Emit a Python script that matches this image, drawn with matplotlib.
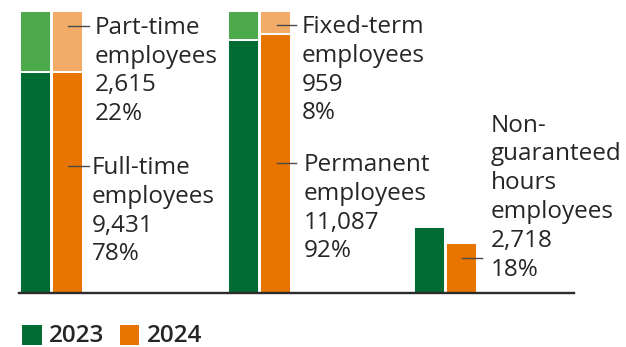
import matplotlib
matplotlib.use("Agg")
import matplotlib.pyplot as plt
from matplotlib.patches import Rectangle

# ---- data (percent of employees) ----
years = ["2023", "2024"]
groups = ["Full/part-time", "Permanent/fixed-term", "Non-guaranteed hours"]
base_2023 = [78.5, 89.7, 23.5]   # full-time, permanent, non-guaranteed
base_2024 = [78.3, 92.0, 17.8]
top_2023 = [21.5, 10.3, 0.0]     # part-time, fixed-term, (none)
top_2024 = [21.7, 8.0, 0.0]

label_part = ["Part-time", "employees", "2,615", "22%"]
label_full = ["Full-time", "employees", "9,431", "78%"]
label_fixed = ["Fixed-term", "employees", "959", "8%"]
label_perm = ["Permanent", "employees", "11,087", "92%"]
label_ngh = ["Non-", "guaranteed", "hours", "employees", "2,718", "18%"]

dark = ["#006b33", "#e87500"]
light = ["#4caa4c", "#f2ac68"]
text_color = "#262626"

W, H = 626, 347
fig = plt.figure(figsize=(W / 100, H / 100), dpi=100)
plt.rcParams['font.family'] = ['Open Sans', 'DejaVu Sans']

ax_left, ax_right, ax_top, ax_bot = 19, 574, 11, 293.2
ax = fig.add_axes([ax_left / W, (H - ax_bot) / H, (ax_right - ax_left) / W, (ax_bot - ax_top) / H])
ax.set_xlim(ax_left, ax_right)
ax.set_ylim(0, 100)
for s in ["top", "left", "right"]:
    ax.spines[s].set_visible(False)
ax.spines["bottom"].set_linewidth(1.7)
ax.spines["bottom"].set_color("#2b2b2b")
ax.set_xticks([])
ax.set_yticks([])
ax.patch.set_alpha(0)

# layout (pixel x-centres of the bars)
centres = [(35.5, 67.5), (243.5, 275.5), (429.5, 461.5)]
bw = 30.5
bases = [base_2023, base_2024]
tops = [top_2023, top_2024]
for gi in range(len(groups)):
    for yi in range(2):
        x = centres[gi][yi]
        b = bases[yi][gi]
        t = tops[yi][gi]
        ax.bar(x, b, width=bw, color=dark[yi], edgecolor="white", linewidth=1.4, zorder=1)
        if t > 0:
            ax.bar(x, t, bottom=b, width=bw, color=light[yi], edgecolor="white", linewidth=1.4, zorder=1)


def fy(ypix):
    return (H - ypix) / H


def fx(xpix):
    return xpix / W


FS = 17.5


def block(lines, x, y0, step=28.8):
    for i, s in enumerate(lines):
        fig.text(fx(x), fy(y0 + i * step), s, fontsize=FS, color=text_color,
                 ha="left", va="baseline")


def connector(x0, x1, y):
    fig.add_artist(plt.Line2D([fx(x0), fx(x1)], [fy(y), fy(y)], color="#4a4a4a", lw=1.0))


block(label_part, 94.5, 33.8)
connector(68, 89, 25.7)
block(label_full, 92, 174.0)
connector(68, 89, 165.7)
block(label_fixed, 302, 33.0)
connector(277, 296, 25.0)
block(label_perm, 304, 171.0)
connector(277, 296, 163.0)
block(label_ngh, 490.5, 131.7)
connector(462, 482, 258.3)

# legend
leg_x = [22, 119.7]
for i, yr in enumerate(years):
    fig.add_artist(Rectangle((fx(leg_x[i]), fy(344.5)), 19.7 / W, 19.7 / H,
                             transform=fig.transFigure, color=dark[i], lw=0))
    fig.text(fx(leg_x[i] + 27), fy(342.5), yr, fontsize=FS, color=text_color,
             fontweight="semibold", ha="left", va="baseline")

fig.savefig("out.png", dpi=100)
